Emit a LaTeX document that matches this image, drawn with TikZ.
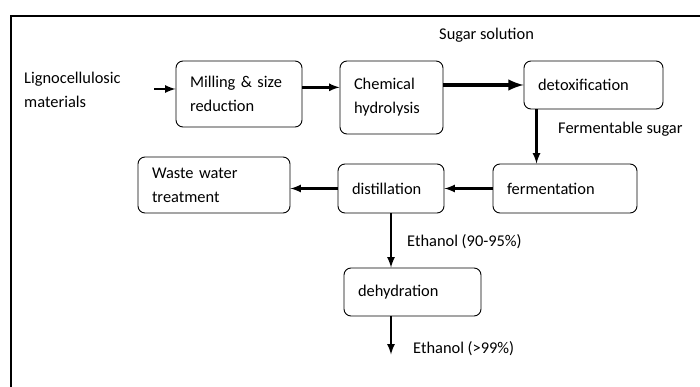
\documentclass[tikz,border=0pt]{standalone}
\usepackage{fontspec}
\setmainfont{Carlito}
\usetikzlibrary{calc}

\begin{document}
\begin{tikzpicture}[font=\fontsize{14}{20.5}\selectfont,
	box/.style={draw,line width=0.8pt,rounded corners=6pt,align=left,inner xsep=0.42cm,inner ysep=0pt},
	flow/.style={-latex,line width=2pt}]
					\useasboundingbox (0,0) rectangle (21,-11.61);
					%FRAME
					\draw[line width=2pt] (0.33,-11.61) -- (0.33,-0.48) -- (21,-0.48);
					
					%BOXES
					\node[box,minimum width=3.78cm,minimum height=1.98cm,text width=2.94cm] (mill) at (7.17,-2.82) {Milling \& size\\reduction};
					\node[box,minimum width=3.09cm,minimum height=2.19cm,text width=2.25cm] (chem) at (11.745,-2.925) {Chemical\\hydrolysis};
					\node[box,minimum width=4.17cm,minimum height=1.44cm,text width=3.33cm] (detox) at (17.805,-2.55) {detoxification\\[-3pt]};
					\node[box,minimum width=4.32cm,minimum height=1.47cm,text width=3.48cm] (ferm) at (16.95,-5.655) {fermentation\\[-6pt]};
					\node[box,minimum width=3.18cm,minimum height=1.47cm,text width=2.34cm] (dist) at (11.73,-5.655) {distillation\\[-6pt]};
					\node[box,minimum width=4.56cm,minimum height=1.68cm,text width=3.72cm] (waste) at (6.42,-5.55) {Waste water\\treatment};
					\node[box,minimum width=4.11cm,minimum height=1.44cm,text width=3.27cm] (dehyd) at (12.375,-8.76) {dehydration\\[-3pt]};
					
					%TEXTS
					\node[anchor=west,align=left,inner sep=0pt] (ligno) at (0.72,-2.685) {Lignocellulosic\\materials};
					\node[anchor=west,inner sep=0pt] (sugar) at (13.17,-1.05) {Sugar solution};
					\node[anchor=west,inner sep=0pt] (fsugar) at (16.74,-3.87) {Fermentable sugar};
					\node[anchor=west,inner sep=0pt] (eth1) at (12.21,-7.26) {Ethanol (90-95\%)};
					\node[anchor=west,inner sep=0pt] (eth2) at (12.39,-10.47) {Ethanol (>99\%)};
					
					%ARROWS
					\coordinate (in) at (4.62,-2.67);
					\draw[flow] (in) -- (in -| mill.west);
					\draw[flow] ([yshift=0.2cm]mill.east) -- ([yshift=0.2cm]mill.east -| chem.west);
					\draw[flow,line width=3.4pt] (detox.west -| chem.east) -- (detox.west);
					\draw[flow] ([xshift=0.39cm]detox.south west) -- ([xshift=0.39cm]detox.south west |- ferm.north);
					\draw[flow] (ferm.west) -- (dist.east);
					\draw[flow] (dist.west) -- (dist.west -| waste.east);
					\draw[flow] (dist.south) -- (dist.south |- dehyd.north);
					\coordinate (out) at ($(dehyd.south -| dist.south)+(0,-1.14)$);
					\draw[flow] (dehyd.south -| dist.south) -- (out);
					
				  \end{tikzpicture}
\end{document}
